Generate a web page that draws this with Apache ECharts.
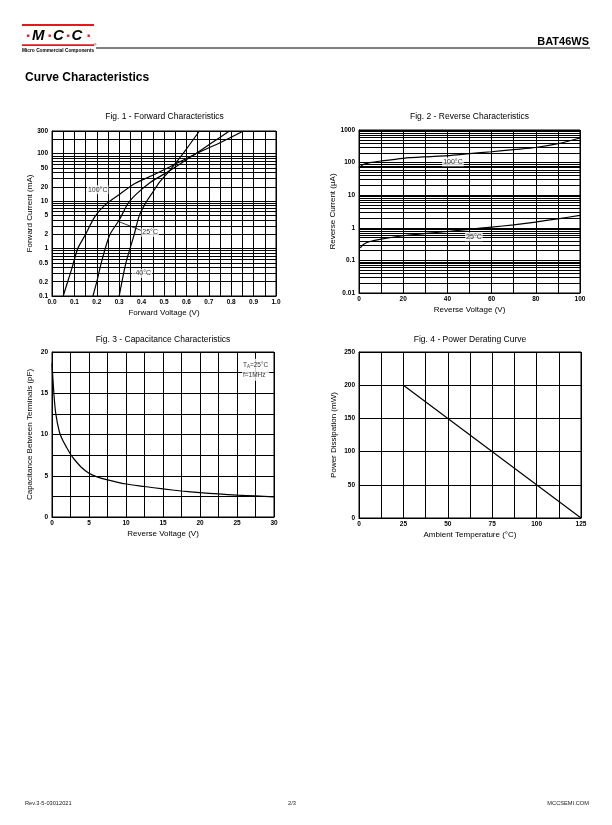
<!DOCTYPE html>
<html><head><meta charset="utf-8">
<script src="https://cdn.jsdelivr.net/npm/echarts@6/dist/echarts.min.js"></script>
<style>html,body{margin:0;padding:0;background:#fff}#c{width:612px;height:825px}</style>
</head><body><div id="c"></div>
<script>
// ---------- data ----------
// Fig. 1 forward characteristics: [voltage V, current mA]
const fig1_100C = [[0.05,0.1],[0.07,0.2],[0.09,0.4],[0.115,1],[0.15,2],[0.19,4.6],[0.236,8.2],[0.296,13.3],[0.37,23.5],[0.45,35],[0.55,60],[0.636,96],[0.75,170],[0.855,300]];
const fig1_25C  = [[0.183,0.1],[0.20,0.2],[0.22,0.5],[0.257,1.9],[0.30,4],[0.34,9],[0.38,14.5],[0.44,25],[0.5,37],[0.57,60],[0.636,96],[0.71,165],[0.792,300]];
const fig1_m40C = [[0.30,0.1],[0.33,0.5],[0.366,1.9],[0.39,5],[0.42,9.5],[0.444,14],[0.48,25],[0.52,41],[0.548,60],[0.60,125],[0.658,300]];
const fig1YTicks = [0.1,0.2,0.5,1,2,5,10,20,50,100,300];
// Fig. 2 reverse characteristics: [voltage V, current uA]
const fig2_100C = [[0,70],[2,88],[5,100],[10,112],[20,135],[30,150],[40,163],[50,188],[60,215],[70,250],[80,290],[90,380],[100,570]];
const fig2_25C  = [[0.5,0.24],[2,0.31],[5,0.38],[10,0.45],[20,0.57],[30,0.67],[40,0.77],[50,0.9],[60,1.05],[70,1.23],[80,1.49],[90,1.89],[100,2.4]];
// Fig. 3 capacitance: [voltage V, capacitance pF]
const fig3_cap = [[0,18.6],[0.25,15],[0.5,12.6],[1,10.3],[1.5,9.2],[2,8.4],[2.5,7.6],[3,7.0],[4,6.0],[5,5.3],[6,4.9],[7.5,4.5],[10,4.0],[12.5,3.7],[15,3.4],[17.5,3.15],[20,2.95],[22.5,2.8],[25,2.65],[27.5,2.55],[30,2.45]];
// Fig. 4 derating: [temperature C, power mW]
const fig4_pd = [[25,200],[125,0]];
// curve annotations (data coordinates)
const fig1Notes = [{name:'100°C', value:[0.204,17.4]},{name:'25°C', value:[0.438,2.2]},{name:'-40°C', value:[0.402,0.3]}];
const fig1Arrow = [[0.397,2.42],[0.298,3.7]];
const fig2Notes = [{name:'100°C', value:[42.5,105]},{name:'25°C', value:[52,0.53]}];
const fig3Note = [25.6,17.85];

// ---------- styling ----------
const F = '"Liberation Sans", Arial, Helvetica, sans-serif';
const tickLbl = {color:'#000', fontSize:6.5, fontWeight:'bold', fontFamily:F};
const nameSty = {color:'#000', fontSize:8, fontFamily:F};
const solid = {color:'#000', width:1, type:'solid'};
const curveSty = {color:'#000', width:1.2};

function decadeLines(lo, hi) {
  const out = [];
  for (let e = Math.floor(Math.log10(lo)); e <= Math.ceil(Math.log10(hi)); e++) {
    for (let m = 1; m <= 9; m++) {
      const v = +(m * Math.pow(10, e)).toPrecision(3);
      if (v >= lo * 0.999 && v <= hi * 1.001) out.push(v);
    }
  }
  return out;
}
function gridMarkLines(values, labels) {
  return {
    silent: true, animation: false, symbol: ['none','none'],
    lineStyle: solid,
    emphasis: {disabled: true},
    label: {show: false},
    data: values.map(v => ({
      yAxis: v,
      label: labels && labels.includes(v)
        ? {show: true, position: 'start', distance: 4, formatter: String(v), color:'#000', fontSize:6.5, fontWeight:'bold', fontFamily:F}
        : {show: false}
    }))
  };
}
function xAx(grid, min, max, interval, name, fmt) {
  return {gridIndex: grid, type:'value', min, max, interval, name, nameLocation:'middle', nameGap:13, nameTextStyle:nameSty,
    axisLine:{show:true, lineStyle:solid}, axisTick:{show:false},
    axisLabel:{...tickLbl, margin:3, formatter: fmt},
    splitLine:{show:true, lineStyle:solid},
    minorTick:{show:false, splitNumber:2}, minorSplitLine:{show:true, lineStyle:solid}};
}
function yAxVal(grid, min, max, interval, name, minor, gap) {
  return {gridIndex: grid, type:'value', min, max, interval, name, nameLocation:'middle', nameGap:gap, nameRotate:90, nameTextStyle:nameSty,
    axisLine:{show:true, lineStyle:solid}, axisTick:{show:false},
    axisLabel:{...tickLbl, margin:4},
    splitLine:{show:true, lineStyle:solid},
    minorTick:{show:false, splitNumber:2}, minorSplitLine:{show:minor, lineStyle:solid}};
}
function curve(x, y, data, extra) {
  return Object.assign({type:'line', xAxisIndex:x, yAxisIndex:y, data, showSymbol:false, symbol:'none',
    smooth:0.25, lineStyle:curveSty, silent:true, animation:false, z:3}, extra || {});
}
function notes(x, y, data, extra) {
  return Object.assign({type:'scatter', xAxisIndex:x, yAxisIndex:y, data, symbolSize:1,
    itemStyle:{color:'rgba(0,0,0,0)'}, silent:true, animation:false, z:10,
    label:{show:true, position:'inside', formatter:'{b}', color:'#000', fontSize:7, fontFamily:F,
      backgroundColor:'#fff', padding:[1,1]}}, extra || {});
}
const gridBase = {show:true, borderColor:'#000', borderWidth:1, backgroundColor:'transparent', containLabel:false, outerBoundsMode:'none'};

const option = {
  animation:false,
  backgroundColor:'#fff',
  grid:[
    Object.assign({left:52, top:131, width:224, height:165}, gridBase),
    Object.assign({left:359, top:130, width:221, height:163}, gridBase),
    Object.assign({left:52, top:352, width:222, height:165}, gridBase),
    Object.assign({left:359, top:352, width:222, height:166}, gridBase)
  ],
  xAxis:[
    xAx(0, 0, 1, 0.1, 'Forward Voltage (V)', v => v.toFixed(1)),
    xAx(1, 0, 100, 20, 'Reverse Voltage (V)'),
    xAx(2, 0, 30, 5, 'Reverse Voltage (V)'),
    xAx(3, 0, 125, 25, 'Ambient Temperature (°C)')
  ],
  yAxis:[
    {gridIndex:0, type:'log', logBase:10, min:0.1, max:300, name:'Forward Current (mA)', nameLocation:'middle', nameGap:18, nameRotate:90, nameTextStyle:nameSty,
     axisLine:{show:true, lineStyle:solid}, axisTick:{show:false}, axisLabel:{show:false}, splitLine:{show:false}},
    {gridIndex:1, type:'log', logBase:10, min:0.01, max:1000, name:'Reverse Current (µA)', nameLocation:'middle', nameGap:21, nameRotate:90, nameTextStyle:nameSty,
     axisLine:{show:true, lineStyle:solid}, axisTick:{show:false}, splitLine:{show:false},
     axisLabel:{...tickLbl, margin:4, formatter: v => String(+(+v).toPrecision(3))}},
    yAxVal(2, 0, 20, 5, 'Capacitance Between Terminals (pF)', true, 18),
    yAxVal(3, 0, 250, 50, 'Power Dissipation (mW)', false, 21)
  ],
  series:[
    curve(0, 0, fig1_100C, {markLine: gridMarkLines(decadeLines(0.1, 300), fig1YTicks)}),
    curve(0, 0, fig1_25C),
    curve(0, 0, fig1_m40C),
    notes(0, 0, fig1Notes, {markLine:{silent:true, animation:false, symbol:['none','arrow'], symbolSize:[0,5],
      lineStyle:{color:'#000', width:0.8, type:'solid'}, label:{show:false}, emphasis:{disabled:true},
      data:[[{coord:fig1Arrow[0]},{coord:fig1Arrow[1]}]]}}),
    curve(1, 1, fig2_100C, {markLine: gridMarkLines(decadeLines(0.01, 1000), null)}),
    curve(1, 1, fig2_25C),
    notes(1, 1, fig2Notes),
    curve(2, 2, fig3_cap),
    notes(2, 2, [{name:'', value:fig3Note}], {label:{show:true, position:'right', distance:0, backgroundColor:'#fff', padding:[1,1,1,1],
      formatter:'{a|T}{b|A}{a|=25°C}\n{a|f=1MHz}',
      rich:{a:{fontSize:6.5, color:'#000', fontFamily:F, lineHeight:10}, b:{fontSize:4.5, color:'#000', fontFamily:F, verticalAlign:'bottom', lineHeight:8}}}}),
    curve(3, 3, fig4_pd, {smooth:false})
  ],
  graphic:[
    // header logo
    {type:'rect', shape:{x:22, y:24, width:72, height:2}, style:{fill:'#e3191f'}, silent:true},
    {type:'rect', shape:{x:22, y:44.3, width:72, height:1.7}, style:{fill:'#e3191f'}, silent:true},
    {type:'text', style:{text:'M', x:32, y:35.5, fill:'#000', font:'italic bold 15px '+F, verticalAlign:'middle'}, silent:true},
    {type:'text', style:{text:'C', x:53, y:35.5, fill:'#000', font:'italic bold 15px '+F, verticalAlign:'middle'}, silent:true},
    {type:'text', style:{text:'C', x:71.5, y:35.5, fill:'#000', font:'italic bold 15px '+F, verticalAlign:'middle'}, silent:true},
    {type:'rect', shape:{x:27, y:34.5, width:2.4, height:2.4}, style:{fill:'#e3191f'}, silent:true},
    {type:'rect', shape:{x:48.5, y:34.5, width:2.4, height:2.4}, style:{fill:'#e3191f'}, silent:true},
    {type:'rect', shape:{x:67, y:34.5, width:2.4, height:2.4}, style:{fill:'#e3191f'}, silent:true},
    {type:'rect', shape:{x:87.5, y:34.5, width:2.4, height:2.4}, style:{fill:'#e3191f'}, silent:true},
    {type:'text', style:{text:'Micro Commercial Components', x:22, y:50.6, fill:'#000', font:'bold 4.8px '+F, verticalAlign:'middle'}, silent:true},
    {type:'text', style:{text:'®', x:93.5, y:44.5, fill:'#000', font:'4px '+F, verticalAlign:'middle'}, silent:true},
    {type:'line', shape:{x1:96, y1:48, x2:590, y2:48}, style:{stroke:'#000', lineWidth:1}, silent:true},
    {type:'text', style:{text:'BAT46WS', x:589, y:42, fill:'#000', font:'bold 11px '+F, align:'right', verticalAlign:'middle'}, silent:true},
    {type:'text', style:{text:'Curve Characteristics', x:25, y:78, fill:'#000', font:'bold 12px '+F, verticalAlign:'middle'}, silent:true},
    // figure titles
    {type:'text', style:{text:'Fig. 1 - Forward Characteristics', x:164.5, y:117, fill:'#000', font:'8.5px '+F, align:'center', verticalAlign:'middle'}, silent:true},
    {type:'text', style:{text:'Fig. 2 - Reverse Characteristics', x:469.5, y:117, fill:'#000', font:'8.5px '+F, align:'center', verticalAlign:'middle'}, silent:true},
    {type:'text', style:{text:'Fig. 3 - Capacitance Characteristics', x:163, y:340, fill:'#000', font:'8.5px '+F, align:'center', verticalAlign:'middle'}, silent:true},
    {type:'text', style:{text:'Fig. 4 - Power Derating Curve', x:470, y:340, fill:'#000', font:'8.5px '+F, align:'center', verticalAlign:'middle'}, silent:true},
    // footer
    {type:'text', style:{text:'Rev.3-5-03012021', x:25, y:803, fill:'#222', font:'5.7px '+F, verticalAlign:'middle'}, silent:true},
    {type:'text', style:{text:'2/3', x:292, y:803, fill:'#222', font:'5.7px '+F, align:'center', verticalAlign:'middle'}, silent:true},
    {type:'text', style:{text:'MCCSEMI.COM', x:589, y:803, fill:'#222', font:'5.7px '+F, align:'right', verticalAlign:'middle'}, silent:true}
  ]
};
const chart = echarts.init(document.getElementById('c'), null, {renderer:'canvas', width:612, height:825});
chart.setOption(option);
</script>
</body></html>
